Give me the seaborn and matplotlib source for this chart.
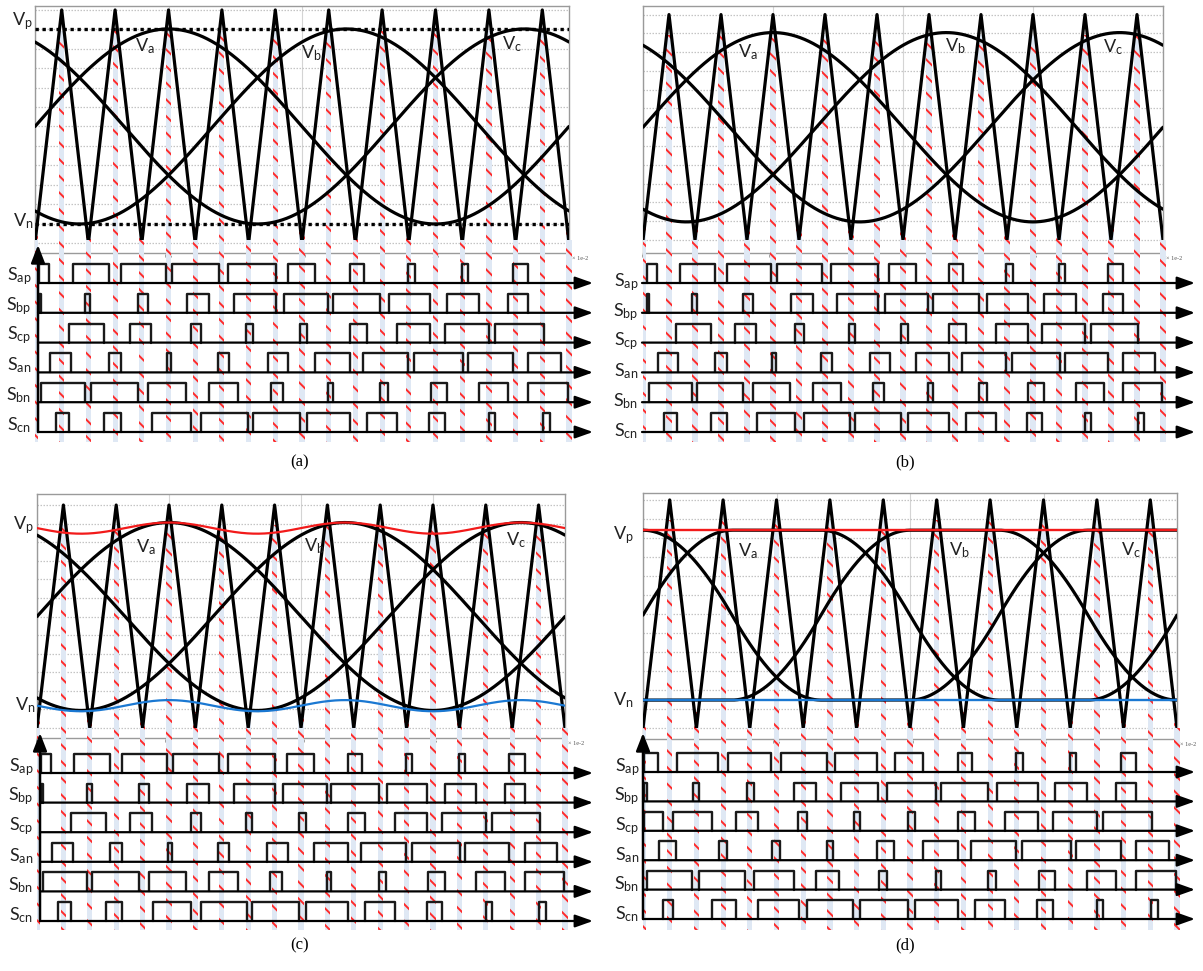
import numpy as np
import pandas as pd
import matplotlib
matplotlib.use("Agg")
import matplotlib.pyplot as plt
from matplotlib.patches import Rectangle
import seaborn as sns

sns.set_style("white")
plt.rcParams["font.family"] = ["Lato", "DejaVu Sans"]
plt.rcParams["mathtext.fontset"] = "custom"
plt.rcParams["mathtext.rm"] = "Lato"
plt.rcParams["mathtext.it"] = "Lato"
plt.rcParams["hatch.linewidth"] = 1.4
plt.rcParams["hatch.color"] = "#ff2a2a"

# ── Data (time axis in units of 1e-2 s) ──────────────────────────────
CARRIER_T = [0.0, 0.1, 0.2, 0.3, 0.4, 0.5, 0.6, 0.7, 0.8, 0.9, 1.0,
             1.1, 1.2, 1.3, 1.4, 1.5, 1.6, 1.7, 1.8, 1.9, 2.0]
CARRIER_V = [-1, 1, -1, 1, -1, 1, -1, 1, -1, 1, -1,
             1, -1, 1, -1, 1, -1, 1, -1, 1, -1]
PEAK_T = [0.1, 0.3, 0.5, 0.7, 0.9, 1.1, 1.3, 1.5, 1.7, 1.9]
TROUGH_T = [0.0, 0.2, 0.4, 0.6, 0.8, 1.0, 1.2, 1.4, 1.6, 1.8, 2.0]

REF_NAMES = ["Va", "Vb", "Vc"]
REF_PHASE_DEG = [0, -120, 120]
REF_FREQ_DEG = 180          # degrees per 1e-2 s (50 Hz)
PANELS = ["a", "b", "c", "d"]
REF_AMP = [0.837, 0.84, 0.843, 0.86]
RAIL_P = [0.837, None, 0.843, 0.735]
RAIL_N = [-0.837, None, -0.85, -0.755]
RAIL_RIPPLE_C = 0.10

X_TICKS = [0, 0.5, 1.0, 1.5]
X_TICK_LABELS = ["0", "0.5", "1.0", "1.5"]
GATE_NAMES = ["ap", "bp", "cp", "an", "bn", "cn"]

# switching pulses (on, off) for panels a, b, c
SAP_A = [(0.014, 0.054), (0.142, 0.276), (0.323, 0.492), (0.514, 0.689), (0.724, 0.903),
         (0.948, 1.050), (1.178, 1.232), (1.397, 1.422), (1.600, 1.623), (1.789, 1.848)]
SBP_A = [(0.014, 0.024), (0.188, 0.207), (0.386, 0.424), (0.570, 0.652), (0.746, 0.903),
         (0.931, 1.097), (1.115, 1.294), (1.324, 1.479), (1.544, 1.664), (1.771, 1.848)]
SCP_A = [(0.128, 0.260), (0.354, 0.436), (0.583, 0.620), (0.792, 0.815), (0.994, 1.019),
         (1.178, 1.244), (1.356, 1.479), (1.535, 1.700), (1.723, 1.905)]
SAN_A = [(0.056, 0.135), (0.277, 0.322), (0.495, 0.511), (0.685, 0.726), (0.873, 0.949),
         (1.050, 1.178), (1.228, 1.397), (1.420, 1.604), (1.623, 1.789), (1.848, 1.970)]
SBN_A = [(0.023, 0.188), (0.209, 0.386), (0.424, 0.566), (0.652, 0.761), (0.883, 0.927),
         (1.097, 1.115), (1.294, 1.322), (1.482, 1.544), (1.664, 1.773), (1.848, 1.996)]
SCN_A = [(0.079, 0.129), (0.260, 0.322), (0.439, 0.583), (0.620, 0.796), (0.815, 0.994),
         (1.019, 1.178), (1.244, 1.357), (1.476, 1.535), (1.700, 1.723), (1.902, 1.927)]

# switching pulses for panel d
SAP_D = [(0.005, 0.057), (0.126, 0.282), (0.318, 0.479), (0.517, 0.688), (0.719, 0.878),
         (0.944, 1.050), (1.178, 1.232), (1.397, 1.422), (1.600, 1.623), (1.789, 1.848)]
SBP_D = [(0.005, 0.014), (0.186, 0.210), (0.389, 0.416), (0.567, 0.648), (0.740, 0.881),
         (0.915, 1.097), (1.115, 1.294), (1.324, 1.479), (1.544, 1.664), (1.771, 1.848)]
SCP_D = [(0.005, 0.076), (0.111, 0.257), (0.350, 0.431), (0.582, 0.615), (0.790, 0.813),
         (0.994, 1.019), (1.178, 1.244), (1.356, 1.479), (1.535, 1.700), (1.723, 1.905)]
SAN_D = [(0.060, 0.124), (0.285, 0.313), (0.482, 0.513), (0.688, 0.713), (0.878, 0.940),
         (1.050, 1.178), (1.228, 1.397), (1.420, 1.604), (1.623, 1.789), (1.848, 1.970)]
SBN_D = [(0.014, 0.183), (0.210, 0.382), (0.416, 0.566), (0.648, 0.735), (0.885, 0.912),
         (1.097, 1.115), (1.294, 1.322), (1.482, 1.544), (1.664, 1.773), (1.848, 1.996)]
SCN_D = [(0.076, 0.111), (0.257, 0.350), (0.431, 0.585), (0.615, 0.788), (0.813, 0.994),
         (1.019, 1.178), (1.244, 1.357), (1.476, 1.535), (1.700, 1.723), (1.902, 1.927)]

GATES = {
    "a": [SAP_A, SBP_A, SCP_A, SAN_A, SBN_A, SCN_A],
    "b": [SAP_A, SBP_A, SCP_A, SAN_A, SBN_A, SCN_A],
    "c": [SAP_A, SBP_A, SCP_A, SAN_A, SBN_A, SCN_A],
    "d": [SAP_D, SBP_D, SCP_D, SAN_D, SBN_D, SCN_D],
}

# ── Layout (pixels) ─────────────────────────────────────────────────
W, H = 1203, 971
LAYOUT = {
    "a": dict(top=(35, 6, 569, 253), ylim=(-1.086, 1.034), pxu=267,
              gate_y=(240, 442), row0=283, dy=29.8, arrow_x=38, arrow_end=593,
              cap=(300, 462), s_x=19, s_dy=-7,
              vlab=[(145, 46), (311, 53), (512, 44)], vp=(22, 21), vn=(23, 221)),
    "b": dict(top=(643, 6, 1163, 253), ylim=(-1.116, 1.076), pxu=260,
              gate_y=(240, 442), row0=283, dy=29.8, arrow_x=642, arrow_end=1195,
              cap=(905, 462), s_x=626, s_dy=-1,
              vlab=[(748, 52), (955, 46), (1113, 47)], vp=None, vn=None),
    "c": dict(top=(37, 494, 565, 738), ylim=(-1.09, 1.099), pxu=264,
              gate_y=(728, 930), row0=773, dy=29.6, arrow_x=40, arrow_end=593,
              cap=(300, 945), s_x=21, s_dy=-6,
              vlab=[(146, 547), (314, 546), (516, 540)], vp=(23, 525), vn=(25, 705)),
    "d": dict(top=(643, 493, 1177, 739), ylim=(-1.096, 1.061), pxu=267,
              gate_y=(728, 930), row0=772, dy=29.4, arrow_x=643, arrow_end=1195,
              cap=(905, 945), s_x=627, s_dy=-5,
              vlab=[(748, 551), (959, 550), (1131, 550)], vp=(623, 535), vn=(623, 700)),
}

fig = plt.figure(figsize=(W / 100, H / 100), dpi=100, facecolor="white")


def px_axes(x0, y0, x1, y1):
    return fig.add_axes([x0 / W, 1 - y1 / H, (x1 - x0) / W, (y1 - y0) / H])


def px_text(x, y, s, **kw):
    fig.text(x / W, 1 - y / H, s, **kw)


def stripe(ax, t, y0, y1, half):
    ax.add_patch(Rectangle((t - half, y0), 2 * half, y1 - y0, facecolor="#dfe8f4",
                           edgecolor="#ff2a2a", lw=0, hatch="\\\\", zorder=1))


t = np.linspace(0, 2, 1201)
theta = np.deg2rad(REF_FREQ_DEG * t)

for i, key in enumerate(PANELS):
    L = LAYOUT[key]
    x0, y0, x1, y1 = L["top"]
    ax = px_axes(x0, y0, x1, y1)
    ax.set_xlim(0, 2.0)
    ax.set_ylim(*L["ylim"])
    half = 2.6 / L["pxu"]

    # references
    amp = REF_AMP[i]
    refs = np.array([amp * np.sin(theta + np.deg2rad(ph)) for ph in REF_PHASE_DEG])
    if key == "d":
        mx, mn = refs.max(axis=0), refs.min(axis=0)
        v0 = np.where(mx + mn >= 0, RAIL_P[i] - mx, RAIL_N[i] - mn)
        refs = refs + v0
    df = pd.DataFrame({"t": np.tile(t, 3), "v": refs.ravel(),
                       "name": np.repeat(REF_NAMES, len(t))})

    # stripes
    for tp in PEAK_T:
        stripe(ax, tp, L["ylim"][0], 0.82, half)
    for tt in TROUGH_T:
        stripe(ax, tt, L["ylim"][0], -0.86, half)

    sns.lineplot(data=df, x="t", y="v", units="name", estimator=None, color="black",
                 lw=2.3, ax=ax, legend=False, zorder=3)
    sns.lineplot(x=CARRIER_T, y=CARRIER_V, sort=False, estimator=None, color="black",
                 lw=2.3, ax=ax, zorder=3)

    if key == "a":
        ax.axhline(RAIL_P[i], color="black", lw=2.4, ls=(0, (1, 1.1)), zorder=4)
        ax.axhline(RAIL_N[i], color="black", lw=2.4, ls=(0, (1, 1.1)), zorder=4)
    elif key == "c":
        red = RAIL_P[i] - RAIL_RIPPLE_C * (1 - np.cos(3 * (theta - np.pi / 2))) / 2
        blue = RAIL_N[i] + RAIL_RIPPLE_C * (1 - np.cos(3 * (theta - np.pi / 6))) / 2
        ax.plot(t, red, color="#f21a1a", lw=1.6, zorder=4)
        ax.plot(t, blue, color="#1a78d2", lw=1.6, zorder=4)
    elif key == "d":
        ax.axhline(RAIL_P[i], color="#f21a1a", lw=1.7, zorder=4)
        ax.axhline(RAIL_N[i], color="#1a78d2", lw=1.7, zorder=4)

    ax.set_yticks(np.arange(-6, 7) / 6)
    ax.set_yticklabels([])
    ax.set_xticks(X_TICKS)
    ax.set_xticklabels(X_TICK_LABELS, family="Liberation Serif", fontsize=4.5, color="#555555")
    ax.tick_params(length=0, pad=1)
    ax.grid(axis="y", ls=(0, (1.2, 1.2)), color="#c4c4c4", lw=0.9)
    ax.grid(axis="x", ls="-", color="#d4d4d4", lw=0.8)
    ax.set_xlabel("")
    ax.set_ylabel("")
    for sp in ax.spines.values():
        sp.set_color("#9a9a9a")
        sp.set_linewidth(1.0)
    ax.text(1.005, -0.012, "× 1e-2", transform=ax.transAxes, family="Liberation Serif",
            fontsize=4.5, color="#555555", va="top", ha="left")

    # labels on waveforms
    for (lx, ly), nm in zip(L["vlab"], ["a", "b", "c"]):
        px_text(lx, ly, r"V$_{\rm " + nm + "}$", fontsize=13, color="#222222",
                ha="center", va="center")
    if L["vp"] is not None:
        px_text(L["vp"][0], L["vp"][1], r"V$_{\rm p}$", fontsize=13, color="#222222",
                ha="center", va="center")
        px_text(L["vn"][0], L["vn"][1], r"V$_{\rm n}$", fontsize=13, color="#222222",
                ha="center", va="center")

    # ── gating signals ──
    gy0, gy1 = L["gate_y"]
    gx1 = W
    gax = px_axes(x0, gy0, gx1, gy1)
    row0, dy = L["row0"], L["dy"]
    gax.set_xlim(0, (gx1 - x0) / L["pxu"])
    gax.set_ylim(-(gy1 - row0) / dy, (row0 - gy0) / dy)
    gax.axis("off")
    ylo, yhi = gax.get_ylim()
    for tp in PEAK_T + TROUGH_T:
        stripe(gax, tp, ylo, yhi, half)

    t_arrow = (L["arrow_x"] - x0) / L["pxu"]
    t_end = (L["arrow_end"] - x0) / L["pxu"]
    height = 0.64
    rows = []
    for r, pulses in enumerate(GATES[key]):
        base = -r
        for k, (a, b) in enumerate(pulses):
            rows.append(pd.DataFrame({"t": [a, a, b, b], "v": [base, base + height, base + height, base],
                                      "pulse": f"{r}-{k}"}))
        gax.annotate("", xy=(t_end, base), xytext=(t_arrow, base),
                     arrowprops=dict(arrowstyle="-|>,head_length=0.9,head_width=0.32",
                                     color="black", lw=1.6, mutation_scale=12, shrinkA=0, shrinkB=0),
                     zorder=4)
        px_text(L["s_x"], row0 + r * dy + L["s_dy"], r"S$_{\rm " + GATE_NAMES[r] + "}$",
                fontsize=13, color="#222222", ha="center", va="center")
    pdf = pd.concat(rows, ignore_index=True)
    sns.lineplot(data=pdf, x="t", y="v", units="pulse", estimator=None, sort=False,
                 color="#1a1a1a", lw=1.7, ax=gax, legend=False, zorder=3)
    gax.annotate("", xy=(t_arrow, (row0 - 245 - (gy0 - 240)) / dy), xytext=(t_arrow, -5),
                 arrowprops=dict(arrowstyle="-|>,head_length=0.9,head_width=0.35",
                                 color="black", lw=1.8, mutation_scale=12, shrinkA=0, shrinkB=0),
                 zorder=5)
    gax.set_xlabel("")
    gax.set_ylabel("")

    px_text(L["cap"][0], L["cap"][1], f"({key})", family="Liberation Serif", fontsize=12,
            color="black", ha="center", va="center")

fig.savefig("out.png", dpi=100, facecolor="white")
